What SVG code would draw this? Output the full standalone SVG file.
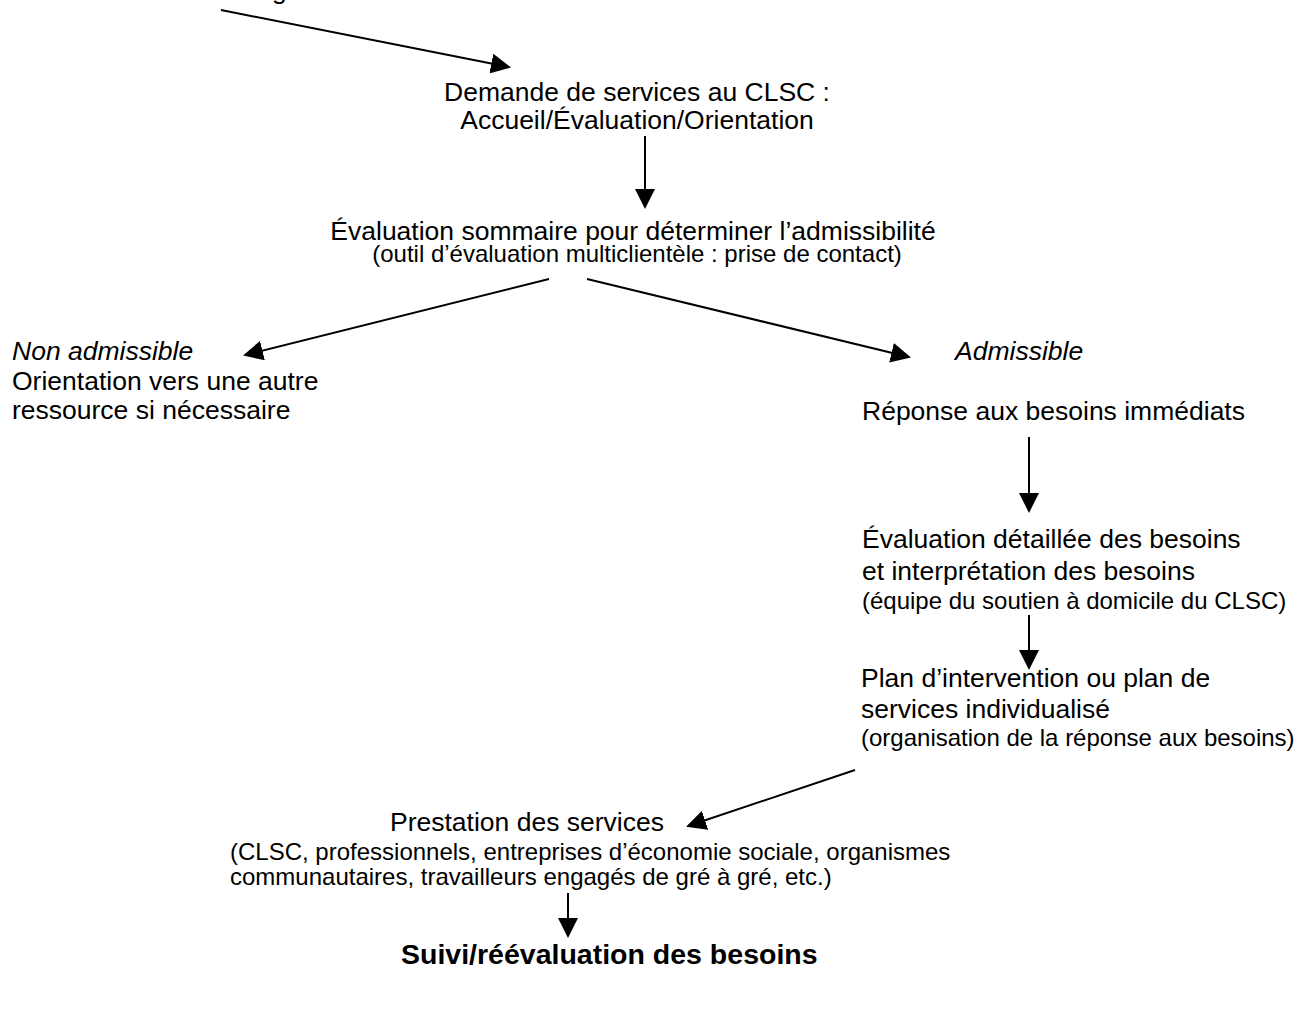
<svg xmlns="http://www.w3.org/2000/svg" width="1308" height="1023" viewBox="0 0 1308 1023">
<style>
text{font-family:"Liberation Sans",Arial,sans-serif;fill:#000}
.m{font-size:26.5px}
.s{font-size:24px}
.i{font-style:italic}
.b{font-weight:bold;font-size:28.5px}
.c{text-anchor:middle}
.ln{stroke:#000;stroke-width:2;fill:none;marker-end:url(#ah)}
</style>
<defs>
<marker id="ah" viewBox="0 0 20 20" refX="18" refY="10" markerWidth="20" markerHeight="20" markerUnits="userSpaceOnUse" orient="auto">
<path d="M0,0 L20,10 L0,20 z" fill="#000"/>
</marker>
</defs>
<rect width="1308" height="1023" fill="#fff"/>
<g id="top"><text class="m" x="272" y="-1.5">g</text></g>
<g id="demande">
<text class="m c" x="637" y="101">Demande de services au CLSC :</text>
<text class="m c" x="637" y="129">Accueil/Évaluation/Orientation</text>
</g>
<g id="sommaire">
<text class="m c" x="633" y="240">Évaluation sommaire pour déterminer l’admissibilité</text>
<text class="s c" x="637" y="262">(outil d’évaluation multiclientèle : prise de contact)</text>
</g>
<g id="nonadm">
<text class="m i" x="12" y="360">Non admissible</text>
<text class="m" x="12" y="390">Orientation vers une autre</text>
<text class="m" x="12" y="419">ressource si nécessaire</text>
</g>
<g id="adm"><text class="m i" x="955" y="360">Admissible</text></g>
<g id="reponse"><text class="m" x="862" y="420">Réponse aux besoins immédiats</text></g>
<g id="detaillee">
<text class="m" x="862" y="548">Évaluation détaillée des besoins</text>
<text class="m" x="862" y="580">et interprétation des besoins</text>
<text class="s" x="862" y="609">(équipe du soutien à domicile du CLSC)</text>
</g>
<g id="plan">
<text class="m" x="861" y="687">Plan d’intervention ou plan de</text>
<text class="m" x="861" y="718">services individualisé</text>
<text class="s" x="861" y="746">(organisation de la réponse aux besoins)</text>
</g>
<g id="prestation">
<text class="m" x="390" y="831">Prestation des services</text>
<text class="s" x="230" y="860">(CLSC, professionnels, entreprises d’économie sociale, organismes</text>
<text class="s" x="230" y="885">communautaires, travailleurs engagés de gré à gré, etc.)</text>
</g>
<g id="suivi"><text class="b" x="401" y="964">Suivi/réévaluation des besoins</text></g>
<g id="connectors">
<line class="ln" x1="221" y1="10" x2="509" y2="67"/>
<line class="ln" x1="645" y1="136" x2="645" y2="207"/>
<line class="ln" x1="549" y1="279" x2="245" y2="355"/>
<line class="ln" x1="587" y1="279" x2="909" y2="357"/>
<line class="ln" x1="1029" y1="437" x2="1029" y2="511"/>
<line class="ln" x1="1029" y1="615" x2="1029" y2="668"/>
<line class="ln" x1="855" y1="770" x2="688" y2="826"/>
<line class="ln" x1="568" y1="893" x2="568" y2="936"/>
</g>
</svg>
